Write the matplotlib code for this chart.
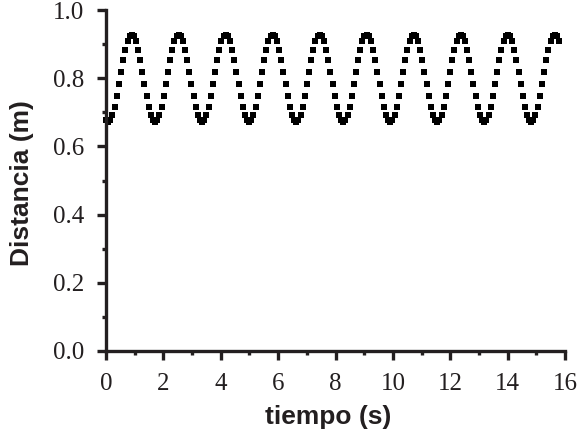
import matplotlib
matplotlib.use("Agg")
import matplotlib.pyplot as plt
from matplotlib.ticker import MultipleLocator

# Time samples (s)
tiempo = [0.00, 0.07, 0.15, 0.22, 0.30, 0.37, 0.45, 0.52, 0.60, 0.67, 0.75, 0.82, 0.89, 0.97, 1.04, 1.12, 1.19, 1.27, 1.34, 1.42, 1.49, 1.56,
          1.64, 1.71, 1.79, 1.86, 1.94, 2.01, 2.09, 2.16, 2.24, 2.31, 2.38, 2.46, 2.53, 2.61, 2.68, 2.76, 2.83, 2.91, 2.98, 3.05, 3.13, 3.20,
          3.28, 3.35, 3.43, 3.50, 3.58, 3.65, 3.73, 3.80, 3.87, 3.95, 4.02, 4.10, 4.17, 4.25, 4.32, 4.40, 4.47, 4.54, 4.62, 4.69, 4.77, 4.84,
          4.92, 4.99, 5.07, 5.14, 5.22, 5.29, 5.36, 5.44, 5.51, 5.59, 5.66, 5.74, 5.81, 5.89, 5.96, 6.03, 6.11, 6.18, 6.26, 6.33, 6.41, 6.48,
          6.56, 6.63, 6.71, 6.78, 6.85, 6.93, 7.00, 7.08, 7.15, 7.23, 7.30, 7.38, 7.45, 7.52, 7.60, 7.67, 7.75, 7.82, 7.90, 7.97, 8.05, 8.12,
          8.20, 8.27, 8.34, 8.42, 8.49, 8.57, 8.64, 8.72, 8.79, 8.87, 8.94, 9.01, 9.09, 9.16, 9.24, 9.31, 9.39, 9.46, 9.54, 9.61, 9.69, 9.76,
          9.83, 9.91, 9.98, 10.06, 10.13, 10.21, 10.28, 10.36, 10.43, 10.50, 10.58, 10.65, 10.73, 10.80, 10.88, 10.95, 11.03, 11.10, 11.18, 11.25,
          11.32, 11.40, 11.47, 11.55, 11.62, 11.70, 11.77, 11.85, 11.92, 11.99, 12.07, 12.14, 12.22, 12.29, 12.37, 12.44, 12.52, 12.59, 12.67, 12.74,
          12.81, 12.89, 12.96, 13.04, 13.11, 13.19, 13.26, 13.34, 13.41, 13.48, 13.56, 13.63, 13.71, 13.78, 13.86, 13.93, 14.01, 14.08, 14.16, 14.23,
          14.30, 14.38, 14.45, 14.53, 14.60, 14.68, 14.75, 14.83, 14.90, 14.97, 15.05, 15.12, 15.20, 15.27, 15.35, 15.42, 15.50, 15.57, 15.65, 15.72,
          15.79]

# Distance (m)
distancia = [0.677, 0.672, 0.677, 0.692, 0.716, 0.747, 0.782, 0.818, 0.853, 0.884, 0.908, 0.923, 0.928, 0.923, 0.908, 0.884, 0.853, 0.818, 0.782, 0.747, 0.716, 0.692,
             0.677, 0.672, 0.677, 0.692, 0.716, 0.747, 0.782, 0.818, 0.853, 0.884, 0.908, 0.923, 0.928, 0.923, 0.908, 0.884, 0.853, 0.818, 0.782, 0.747, 0.716, 0.692,
             0.677, 0.672, 0.677, 0.692, 0.716, 0.747, 0.782, 0.818, 0.853, 0.884, 0.908, 0.923, 0.928, 0.923, 0.908, 0.884, 0.853, 0.818, 0.782, 0.747, 0.716, 0.692,
             0.677, 0.672, 0.677, 0.692, 0.716, 0.747, 0.782, 0.818, 0.853, 0.884, 0.908, 0.923, 0.928, 0.923, 0.908, 0.884, 0.853, 0.818, 0.782, 0.747, 0.716, 0.692,
             0.677, 0.672, 0.677, 0.692, 0.716, 0.747, 0.782, 0.818, 0.853, 0.884, 0.908, 0.923, 0.928, 0.923, 0.908, 0.884, 0.853, 0.818, 0.782, 0.747, 0.716, 0.692,
             0.677, 0.672, 0.677, 0.692, 0.716, 0.747, 0.782, 0.818, 0.853, 0.884, 0.908, 0.923, 0.928, 0.923, 0.908, 0.884, 0.853, 0.818, 0.782, 0.747, 0.716, 0.692,
             0.677, 0.672, 0.677, 0.692, 0.716, 0.747, 0.782, 0.818, 0.853, 0.884, 0.908, 0.923, 0.928, 0.923, 0.908, 0.884, 0.853, 0.818, 0.782, 0.747, 0.716, 0.692,
             0.677, 0.672, 0.677, 0.692, 0.716, 0.747, 0.782, 0.818, 0.853, 0.884, 0.908, 0.923, 0.928, 0.923, 0.908, 0.884, 0.853, 0.818, 0.782, 0.747, 0.716, 0.692,
             0.677, 0.672, 0.677, 0.692, 0.716, 0.747, 0.782, 0.818, 0.853, 0.884, 0.908, 0.923, 0.928, 0.923, 0.908, 0.884, 0.853, 0.818, 0.782, 0.747, 0.716, 0.692,
             0.677, 0.672, 0.677, 0.692, 0.716, 0.747, 0.782, 0.818, 0.853, 0.884, 0.908, 0.923, 0.928, 0.923, 0.908]

x_ticks = [0, 2, 4, 6, 8, 10, 12, 14, 16]
y_ticks = [0.0, 0.2, 0.4, 0.6, 0.8, 1.0]
x_label = "tiempo (s)"
y_label = "Distancia (m)"

INK = "#231f20"
label_kw = dict(family="Liberation Sans", fontweight="bold", fontsize=19)

fig = plt.figure(figsize=(5.79, 4.37), dpi=100)
ax = fig.add_axes([0.1831, 0.1968, 0.7927, 0.7803])

ax.plot(tiempo, distancia, linestyle="none", marker="s", markersize=5,
        color="black", markeredgewidth=0, clip_on=False)

ax.set_xlim(0, 16)
ax.set_ylim(0, 1.0)
ax.set_xticks(x_ticks)
ax.set_yticks(y_ticks)
ax.set_xticklabels([str(v) for v in x_ticks], fontfamily="Liberation Serif", fontsize=18, color=INK)
ax.set_yticklabels([f"{v:.1f}" for v in y_ticks], fontfamily="Liberation Serif", fontsize=18, color=INK)
ax.xaxis.set_minor_locator(MultipleLocator(1))
ax.yaxis.set_minor_locator(MultipleLocator(0.1))

for s in ["top", "right"]:
    ax.spines[s].set_visible(False)
for s in ["left", "bottom"]:
    ax.spines[s].set_linewidth(2.4)
    ax.spines[s].set_color(INK)

ax.tick_params(which="major", direction="out", length=6.5, width=2.4, color=INK, pad=9)
ax.tick_params(which="minor", direction="out", length=3.2, width=2.4, color=INK)

ax.set_xlabel(x_label, color=INK, **label_kw)
ax.set_ylabel(y_label, color=INK, **label_kw)
ax.xaxis.set_label_coords(0.4837, -0.158)
ax.yaxis.set_label_coords(-0.157, 0.493)

fig.savefig("out.png", dpi=100)
